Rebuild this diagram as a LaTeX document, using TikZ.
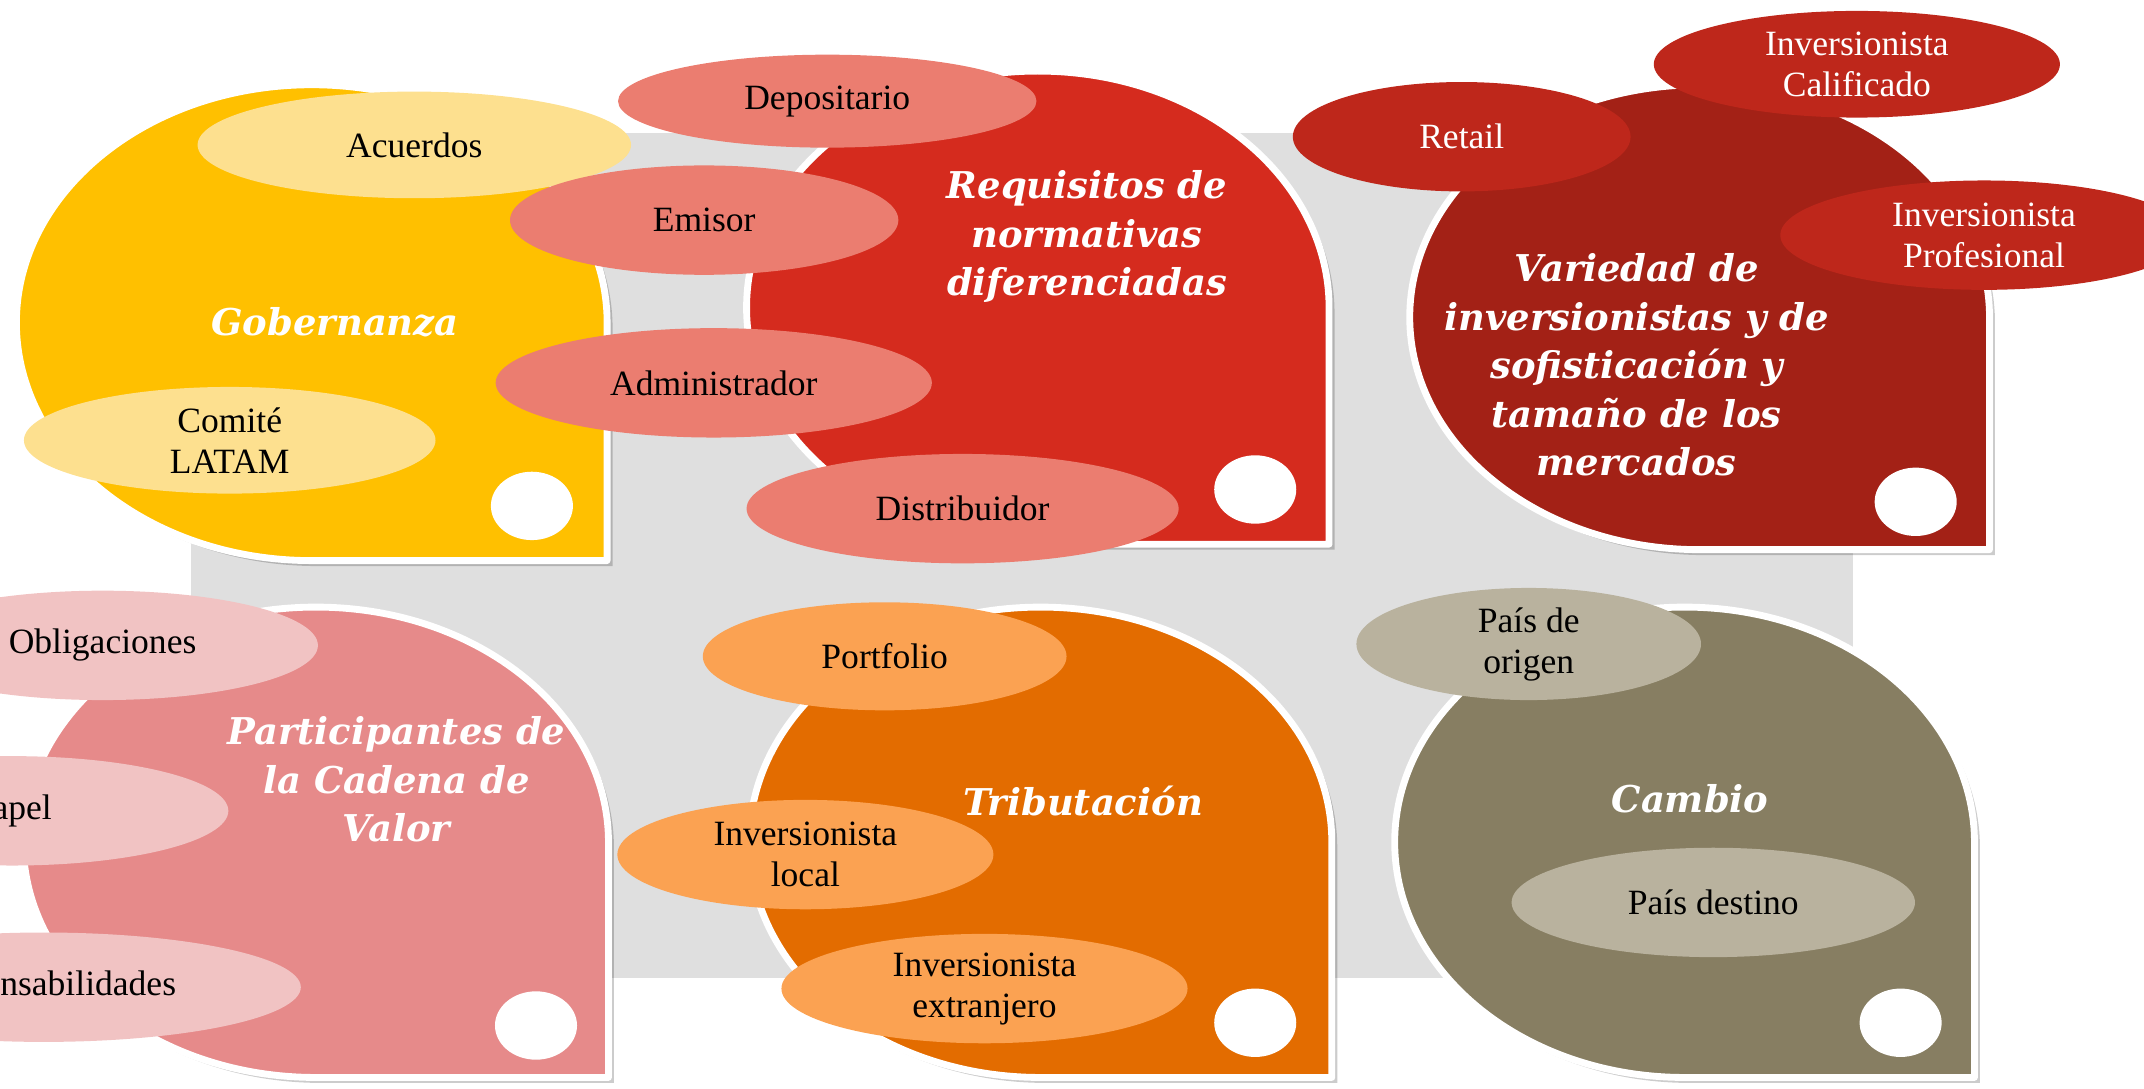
\documentclass[tikz,border=0pt]{standalone}
\usepackage{fontspec}
\setmainfont{Liberation Serif}
\newfontfamily\titlefont{DejaVu Serif}
\usetikzlibrary{shapes.geometric,shadows}
\definecolor{bggray}{HTML}{DFDFDF}
\definecolor{cYel}{HTML}{FFC000}
\definecolor{cYelL}{HTML}{FDE08F}
\definecolor{cRed}{HTML}{D52B1E}
\definecolor{cRedL}{HTML}{EB7D70}
\definecolor{cDRed}{HTML}{A32116}
\definecolor{cDRedL}{HTML}{BE271B}
\definecolor{cPink}{HTML}{E68A8A}
\definecolor{cPinkL}{HTML}{F1C3C3}
\definecolor{cOra}{HTML}{E36C00}
\definecolor{cOraL}{HTML}{FBA252}
\definecolor{cOli}{HTML}{877E62}
\definecolor{cOliL}{HTML}{B9B29E}
\newcommand{\petal}[5]{%
  \draw[petalsty, fill=#5] (#1+#3,#2) -- (#1+#3,#2-#4) -- (#1,#2-#4)
    arc[start angle=-90, end angle=-360, x radius=#3, y radius=#4] -- cycle;}
\tikzset{
  petalsty/.style={draw=white, line width=2.5pt, line join=round,
    drop shadow={opacity=0.2, shadow xshift=2pt, shadow yshift=-2pt, fill=black}},
  dot/.style={ellipse, fill=white, minimum width=30pt, minimum height=25pt, inner sep=0pt},
  bub/.style n args={2}{ellipse, inner sep=0pt, align=center,
    minimum width=#1*0.5pt, minimum height=#2*0.5pt,
    font=\fontsize{13}{15}\selectfont},
  ttl/.style={text=white, align=center,
    font=\titlefont\bfseries\itshape\fontsize{13.5}{17.75}\selectfont}
}
\begin{document}
\begin{tikzpicture}[x=0.5pt, y=0.5pt]
\useasboundingbox (0,0) rectangle (1568,796);
\clip (0,0) rectangle (1568,796);
\fill[bggray] (140,81) rectangle (1355,699);
% petals
\petal{228}{560}{216}{174}{cYel}
\petal{759}{571}{213}{173}{cRed}
\petal{1243}{564}{212}{170}{cDRed}
\petal{231}{180}{214}{172}{cPink}
\petal{761}{180}{213}{172}{cOra}
\petal{1232}{180}{212}{172}{cOli}
% dots
\node[dot] (d1) at (389,426) {};
\node[dot] (d2) at (918,438) {};
\node[dot] (d3) at (1401,429) {};
\node[dot] (d4) at (392,46) {};
\node[dot] (d5) at (918,48) {};
\node[dot] (d6) at (1390,48) {};
% titles
\node[ttl] (t1) at (245,560) {Gobernanza};
\node[ttl] (t2) at (795,623) {Requisitos de\\normativas\\diferenciadas};
\node[ttl] (t3) at (1197,529) {Variedad de\\inversionistas y de\\sofisticación y\\tamaño de los\\mercados};
\node[ttl] (t4) at (290,226) {Participantes de\\la Cadena de\\Valor};
\node[ttl] (t5) at (792,210) {Tributación};
\node[ttl] (t6) at (1236,212) {Cambio};
% bubbles
\node[bub={317}{78}, fill=cYelL] (acu) at (303,690) {Acuerdos};
\node[bub={301}{78}, fill=cYelL] (com) at (168,474) {Comité\\LATAM};
\node[bub={306}{68}, fill=cRedL] (dep) at (605,722) {Depositario};
\node[bub={284}{80}, fill=cRedL] (emi) at (515,635) {Emisor};
\node[bub={319}{80}, fill=cRedL] (adm) at (522,516) {Administrador};
\node[bub={316}{80}, fill=cRedL] (dis) at (704,424) {Distribuidor};
\node[bub={247}{80}, fill=cDRedL, text=white] (ret) at (1069,696) {Retail};
\node[bub={297}{78}, fill=cDRedL, text=white] (cal) at (1358,749) {Inversionista\\Calificado};
\node[bub={298}{80}, fill=cDRedL, text=white] (pro) at (1451,624) {Inversionista\\Profesional};
\node[bub={315}{80}, fill=cPinkL] (obl) at (75,324) {Obligaciones};
\node[bub={316}{80}, fill=cPinkL] (pap) at (9,203) {Papel};
\node[bub={376}{80}, fill=cPinkL] (res) at (32,74) {Responsabilidades};
\node[bub={266}{79}, fill=cOraL] (por) at (647,316) {Portfolio};
\node[bub={275}{80}, fill=cOraL] (loc) at (589,171) {Inversionista\\local};
\node[bub={297}{80}, fill=cOraL] (ext) at (720,73) {Inversionista\\extranjero};
\node[bub={252}{82}, fill=cOliL] (ori) at (1118,325) {País de\\origen};
\node[bub={295}{80}, fill=cOliL] (des) at (1253,136) {País destino};
\end{tikzpicture}
\end{document}
